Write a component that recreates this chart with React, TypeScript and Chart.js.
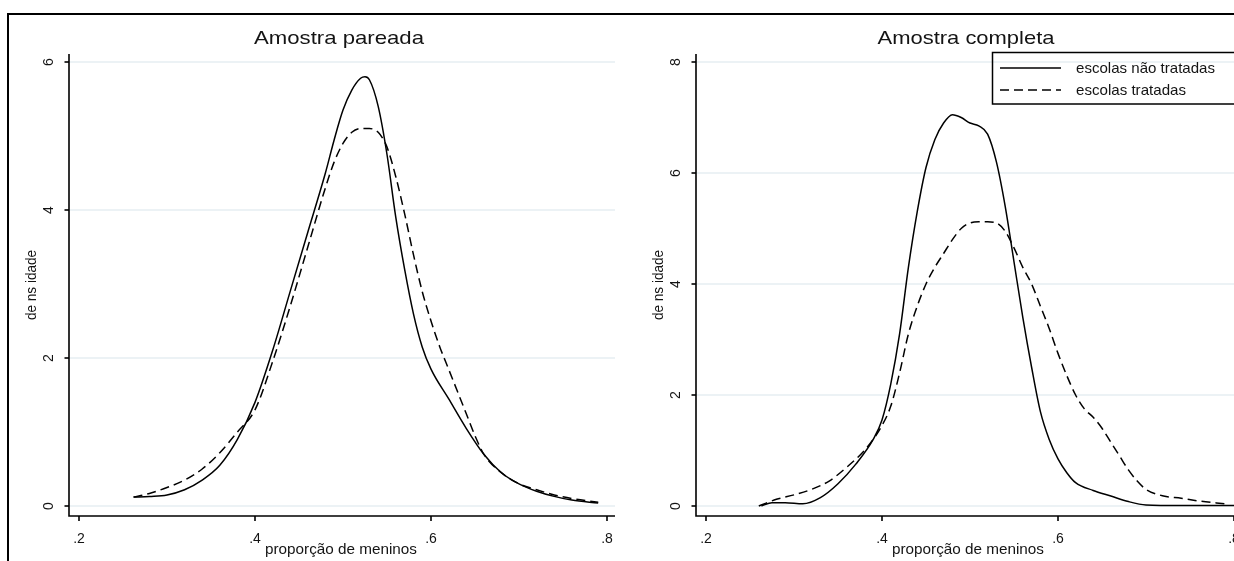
import React, { useEffect, useRef } from "react";
import { Chart, registerables } from "chart.js";

Chart.register(...registerables);

// ---------- data ----------
const panelTitles = ["Amostra pareada", "Amostra completa"];
const xAxisTitle = "proporção de meninos";
const yAxisTitle = "de ns idade";
const legendLabels = ["escolas não tratadas", "escolas tratadas"];

const xTickValues = [0.2, 0.4, 0.6, 0.8];
const xTickLabels = [".2", ".4", ".6", ".8"];
const leftYTickValues = [0, 2, 4, 6];
const rightYTickValues = [0, 2, 4, 6, 8];

// Amostra pareada – escolas não tratadas (solid)
const leftUntreatedX = [0.262, 0.28, 0.3, 0.32, 0.34, 0.36, 0.38, 0.4, 0.42, 0.44, 0.46, 0.48, 0.49, 0.5, 0.51, 0.52, 0.525, 0.53, 0.54, 0.55, 0.56, 0.57, 0.58, 0.59, 0.6, 0.62, 0.64, 0.66, 0.68, 0.7, 0.72, 0.74, 0.76, 0.79];
const leftUntreatedY = [0.12, 0.13, 0.15, 0.22, 0.35, 0.55, 0.9, 1.4, 2.1, 2.9, 3.7, 4.5, 4.95, 5.35, 5.62, 5.78, 5.8, 5.76, 5.4, 4.75, 3.9, 3.2, 2.6, 2.15, 1.85, 1.45, 1.05, 0.7, 0.45, 0.3, 0.2, 0.13, 0.08, 0.04];

// Amostra pareada – escolas tratadas (dashed)
const leftTreatedX = [0.262, 0.28, 0.3, 0.32, 0.34, 0.36, 0.38, 0.4, 0.42, 0.44, 0.46, 0.48, 0.49, 0.5, 0.51, 0.52, 0.53, 0.54, 0.55, 0.56, 0.57, 0.58, 0.59, 0.6, 0.61, 0.62, 0.63, 0.64, 0.65, 0.66, 0.68, 0.7, 0.72, 0.74, 0.76, 0.79];
const leftTreatedY = [0.12, 0.17, 0.25, 0.35, 0.5, 0.72, 1.0, 1.3, 1.95, 2.7, 3.5, 4.3, 4.65, 4.9, 5.05, 5.1, 5.1, 5.05, 4.85, 4.45, 3.95, 3.4, 2.9, 2.5, 2.15, 1.85, 1.55, 1.25, 0.95, 0.7, 0.45, 0.3, 0.22, 0.15, 0.1, 0.05];

// Amostra completa – escolas não tratadas (solid)
const rightUntreatedX = [0.263, 0.275, 0.29, 0.31, 0.33, 0.35, 0.37, 0.39, 0.4, 0.41, 0.42, 0.43, 0.44, 0.45, 0.46, 0.47, 0.48, 0.49, 0.5, 0.51, 0.52, 0.53, 0.54, 0.55, 0.56, 0.57, 0.58, 0.59, 0.6, 0.61, 0.62, 0.64, 0.66, 0.68, 0.7, 0.74, 0.8];
const rightUntreatedY = [0.0, 0.06, 0.06, 0.04, 0.15, 0.4, 0.75, 1.2, 1.55, 2.2, 3.1, 4.3, 5.3, 6.1, 6.6, 6.9, 7.05, 7.0, 6.9, 6.85, 6.7, 6.2, 5.4, 4.4, 3.4, 2.5, 1.7, 1.2, 0.85, 0.6, 0.42, 0.28, 0.18, 0.08, 0.02, 0.01, 0.01];

// Amostra completa – escolas tratadas (dashed)
const rightTreatedX = [0.26, 0.28, 0.3, 0.32, 0.34, 0.36, 0.38, 0.39, 0.4, 0.41, 0.42, 0.43, 0.44, 0.45, 0.46, 0.47, 0.48, 0.49, 0.5, 0.51, 0.52, 0.53, 0.54, 0.55, 0.56, 0.57, 0.58, 0.59, 0.6, 0.61, 0.62, 0.63, 0.64, 0.65, 0.66, 0.67, 0.68, 0.69, 0.7, 0.72, 0.74, 0.76, 0.79];
const rightTreatedY = [0.0, 0.12, 0.2, 0.3, 0.45, 0.7, 1.0, 1.2, 1.45, 1.8, 2.4, 3.1, 3.6, 4.0, 4.3, 4.55, 4.8, 5.0, 5.1, 5.12, 5.12, 5.1, 4.95, 4.65, 4.3, 4.0, 3.6, 3.2, 2.75, 2.35, 2.0, 1.75, 1.6, 1.4, 1.15, 0.9, 0.65, 0.45, 0.3, 0.18, 0.14, 0.09, 0.04];

// ---------- drawing helpers ----------
const FONT = '"Liberation Sans", Arial, sans-serif';
const TEXT = "#141414";

function drawText(
  ctx: CanvasRenderingContext2D,
  text: string,
  x: number,
  y: number,
  size: number,
  width: number | null,
  align: CanvasTextAlign,
  rotate: boolean
) {
  ctx.save();
  ctx.font = `${size}px ${FONT}`;
  const w = ctx.measureText(text).width;
  const sx = width ? width / w : 1;
  ctx.translate(x, y);
  if (rotate) ctx.rotate(-Math.PI / 2);
  ctx.scale(sx, 1);
  ctx.fillStyle = TEXT;
  ctx.textAlign = align;
  ctx.textBaseline = "alphabetic";
  ctx.fillText(text, 0, 0);
  ctx.restore();
}

type PanelProps = {
  left: number;
  width: number;
  title: string;
  titleWidth: number;
  yTicks: number[];
  yMin: number;
  yMax: number;
  solidX: number[];
  solidY: number[];
  dashX: number[];
  dashY: number[];
  legend: boolean;
};

const H = 561;
const AREA_LEFT = 69;
const AREA_RIGHT = 615;
const AREA_TOP = 54;
const AREA_BOTTOM = 516;

function Panel(p: PanelProps) {
  const ref = useRef<HTMLCanvasElement | null>(null);

  useEffect(() => {
    const canvas = ref.current;
    if (!canvas) return;

    const decor = {
      id: "stataDecor",
      beforeDatasetsDraw(chart: any) {
        const ctx = chart.ctx as CanvasRenderingContext2D;
        const area = chart.chartArea;
        const ys = chart.scales.y;
        ctx.save();
        ctx.strokeStyle = "#e6eef2";
        ctx.lineWidth = 1.5;
        p.yTicks.forEach((v) => {
          const py = ys.getPixelForValue(v);
          ctx.beginPath();
          ctx.moveTo(area.left, py);
          ctx.lineTo(area.right, py);
          ctx.stroke();
        });
        ctx.restore();
      },
      afterDatasetsDraw(chart: any) {
        const ctx = chart.ctx as CanvasRenderingContext2D;
        const area = chart.chartArea;
        const xs = chart.scales.x;
        const ys = chart.scales.y;
        ctx.save();
        ctx.strokeStyle = "#000";
        ctx.lineWidth = 1.6;
        // axis lines
        ctx.beginPath();
        ctx.moveTo(area.left, area.top);
        ctx.lineTo(area.left, area.bottom + 0.8);
        ctx.moveTo(area.left - 0.8, area.bottom);
        ctx.lineTo(area.right, area.bottom);
        ctx.stroke();
        // y ticks
        p.yTicks.forEach((v) => {
          const py = ys.getPixelForValue(v);
          ctx.beginPath();
          ctx.moveTo(area.left - 4.5, py);
          ctx.lineTo(area.left, py);
          ctx.stroke();
          drawText(ctx, String(v), area.left - 16.5, py, 14, null, "center", true);
        });
        // x ticks
        xTickValues.forEach((v, i) => {
          const px = xs.getPixelForValue(v);
          ctx.beginPath();
          ctx.moveTo(px, area.bottom);
          ctx.lineTo(px, area.bottom + 5);
          ctx.stroke();
          drawText(ctx, xTickLabels[i], px, area.bottom + 27, 14, null, "center", false);
        });
        ctx.restore();

        // titles
        drawText(ctx, p.title, 339, 44, 19, p.titleWidth, "center", false);
        drawText(ctx, xAxisTitle, 341, 554, 14.5, 152, "center", false);
        drawText(ctx, yAxisTitle, 36, 285, 14, 70, "center", true);

        if (p.legend) {
          ctx.save();
          ctx.strokeStyle = "#000";
          ctx.lineWidth = 1.5;
          ctx.strokeRect(365.5, 52.5, 400, 51.5);
          ctx.lineWidth = 1.6;
          ctx.beginPath();
          ctx.moveTo(373, 68);
          ctx.lineTo(434, 68);
          ctx.stroke();
          ctx.setLineDash([9, 5]);
          ctx.beginPath();
          ctx.moveTo(373, 90);
          ctx.lineTo(434, 90);
          ctx.stroke();
          ctx.restore();
          drawText(ctx, legendLabels[0], 449, 72.5, 15, 139, "left", false);
          drawText(ctx, legendLabels[1], 449, 94.5, 15, 110, "left", false);
        }
      },
    };

    const ppu = (xTickValues[3] - xTickValues[0]);
    const xPerPx = ppu / (607 - 79);
    const xMin = xTickValues[0] - (79 - AREA_LEFT) * xPerPx;
    const xMax = xTickValues[0] + (AREA_RIGHT - 79) * xPerPx;

    const chart = new Chart(canvas, {
      type: "line",
      data: {
        datasets: [
          {
            label: legendLabels[0],
            data: p.solidX.map((x, i) => ({ x, y: p.solidY[i] })),
            borderColor: "#000",
            borderWidth: 1.5,
            pointRadius: 0,
            fill: false,
            cubicInterpolationMode: "monotone",
          },
          {
            label: legendLabels[1],
            data: p.dashX.map((x, i) => ({ x, y: p.dashY[i] })),
            borderColor: "#000",
            borderWidth: 1.5,
            borderDash: [9, 5],
            pointRadius: 0,
            fill: false,
            cubicInterpolationMode: "monotone",
          },
        ],
      },
      options: {
        animation: false,
        responsive: false,
        maintainAspectRatio: false,
        events: [],
        layout: {
          padding: {
            left: AREA_LEFT,
            right: p.width - AREA_RIGHT,
            top: AREA_TOP,
            bottom: H - AREA_BOTTOM,
          },
        },
        scales: {
          x: { type: "linear", display: false, min: xMin, max: xMax },
          y: { type: "linear", display: false, min: p.yMin, max: p.yMax },
        },
        plugins: {
          legend: { display: false },
          tooltip: { enabled: false },
          title: { display: false },
        },
      },
      plugins: [decor],
    } as any);

    return () => chart.destroy();
  }, []);

  return (
    <canvas
      ref={ref}
      width={p.width}
      height={H}
      style={{ position: "absolute", left: p.left, top: 0, width: p.width, height: H }}
    />
  );
}

export default function App() {
  // y scale: value 0 at pixel 506, top tick at pixel 62
  const leftPx = (506 - 62) / 6;
  const rightPx = (506 - 62) / 8;
  return (
    <div
      style={{
        position: "absolute",
        left: 0,
        top: 0,
        width: 1234,
        height: 561,
        overflow: "hidden",
        background: "#fff",
      }}
    >
      <div
        style={{
          position: "absolute",
          left: 7,
          top: 13,
          width: 1300,
          height: 600,
          borderTop: "2px solid #000",
          borderLeft: "2px solid #000",
        }}
      />
      <Panel
        left={0}
        width={627}
        title={panelTitles[0]}
        titleWidth={170}
        yTicks={leftYTickValues}
        yMin={-(AREA_BOTTOM - 506) / leftPx}
        yMax={6 + (62 - AREA_TOP) / leftPx}
        solidX={leftUntreatedX}
        solidY={leftUntreatedY}
        dashX={leftTreatedX}
        dashY={leftTreatedY}
        legend={false}
      />
      <Panel
        left={627}
        width={640}
        title={panelTitles[1]}
        titleWidth={177}
        yTicks={rightYTickValues}
        yMin={-(AREA_BOTTOM - 506) / rightPx}
        yMax={8 + (62 - AREA_TOP) / rightPx}
        solidX={rightUntreatedX}
        solidY={rightUntreatedY}
        dashX={rightTreatedX}
        dashY={rightTreatedY}
        legend={true}
      />
    </div>
  );
}
